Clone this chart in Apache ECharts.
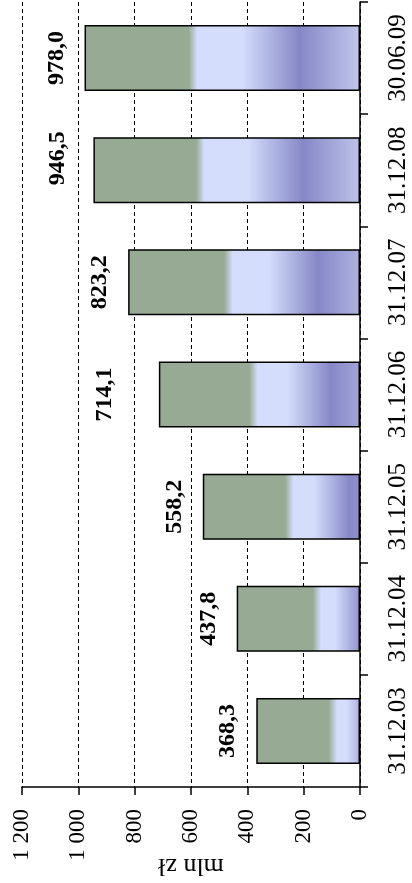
<!DOCTYPE html>
<html><head><meta charset="utf-8">
<script src="https://cdn.jsdelivr.net/npm/echarts/dist/echarts.min.js"></script>
<style>html,body{margin:0;padding:0;background:#fff}#c{width:412px;height:883px}</style>
</head><body><div id="c"></div>
<script>
// ---- data ----
const categories = ['31.12.03', '31.12.04', '31.12.05', '31.12.06', '31.12.07', '31.12.08', '30.06.09'];
const values = [368.3, 437.8, 558.2, 714.1, 823.2, 946.5, 978.0];
const valueTicks = [0, 200, 400, 600, 800, 1000, 1200];
const axisName = 'mln zł';

// ---- styling helpers ----
const FONT = 'Liberation Serif';
const G = [150, 170, 148], L = [212, 221, 252], D = [134, 136, 198], L2 = [201, 208, 242];
// gradient stops: position from bar end in value units = A + B * value
const stopDefs = [
  [0, 0, G], [188, 0.186, G], [218, 0.186, L], [178, 0.39, L], [199, 0.576, D], [448, 0.576, L2]
];
function rgb(c) { return 'rgb(' + c.map(Math.round).join(',') + ')'; }
function mix(a, b, t) { return a.map((v, i) => v + (b[i] - v) * t); }
function barGradient(v) {
  const pts = stopDefs.map(s => [(s[0] + s[1] * v) / v, s[2]]);
  const stops = [];
  for (let i = 0; i < pts.length; i++) {
    const [o, c] = pts[i];
    if (o <= 1) { stops.push({ offset: Math.max(0, o), color: rgb(c) }); }
    else {
      const [po, pc] = pts[i - 1];
      const t = (1 - po) / (o - po);
      stops.push({ offset: 1, color: rgb(mix(pc, c, t)) });
      break;
    }
  }
  return { type: 'linear', x: 0, y: 0, x2: 1, y2: 0, colorStops: stops };
}
// label offsets in the rotated text frame: [along reading direction, away from bar]
const labelOffsets = { 3: [0, -26], 5: [12, -8] };

const chart = echarts.init(document.getElementById('c'), null, { renderer: 'canvas' });
chart.setOption({
  animation: false,
  backgroundColor: '#fff',
  grid: { left: 22, right: 52, top: 2, bottom: 96, containLabel: false, outerBoundsMode: 'none' },
  xAxis: {
    type: 'value', inverse: true, position: 'bottom',
    min: valueTicks[0], max: valueTicks[valueTicks.length - 1], interval: valueTicks[1] - valueTicks[0],
    name: axisName, nameLocation: 'middle', nameGap: 66, nameRotate: 180, nameMoveOverlap: false,
    nameTextStyle: { fontFamily: FONT, fontSize: 26, color: '#000' },
    axisLine: { show: true, lineStyle: { color: '#000', width: 1.5 } },
    axisTick: { show: true, length: 8, lineStyle: { color: '#000', width: 1.5 } },
    axisLabel: {
      rotate: 90, margin: 22, fontFamily: FONT, fontSize: 23, color: '#000', hideOverlap: false,
      formatter: v => String(v).replace(/\B(?=(\d{3})+(?!\d))/g, ' ')
    },
    splitLine: { show: true, lineStyle: { color: '#000', width: 1, type: [4, 3] } }
  },
  yAxis: {
    type: 'category', position: 'right', data: categories,
    axisLine: { show: true, lineStyle: { color: '#000', width: 1.5 } },
    axisTick: { show: true, interval: 0, length: 8, lineStyle: { color: '#000', width: 1.5 } },
    axisLabel: { interval: 0, hideOverlap: false, rotate: 90, margin: 26, fontFamily: FONT, fontSize: 25, color: '#000' },
    splitLine: { show: false }
  },
  series: [{
    type: 'bar',
    barWidth: 66,
    data: values.map((v, i) => ({
      value: v,
      itemStyle: { color: barGradient(v) },
      label: labelOffsets[i] ? { offset: labelOffsets[i] } : undefined
    })),
    itemStyle: { borderColor: '#000', borderWidth: 1.5 },
    label: {
      show: true, position: 'left', distance: 16, rotate: 90,
      align: 'center', verticalAlign: 'bottom',
      fontFamily: FONT, fontSize: 24, fontWeight: 'bold', color: '#000',
      formatter: p => p.value.toFixed(1).replace('.', ',')
    }
  }]
});
</script></body></html>
